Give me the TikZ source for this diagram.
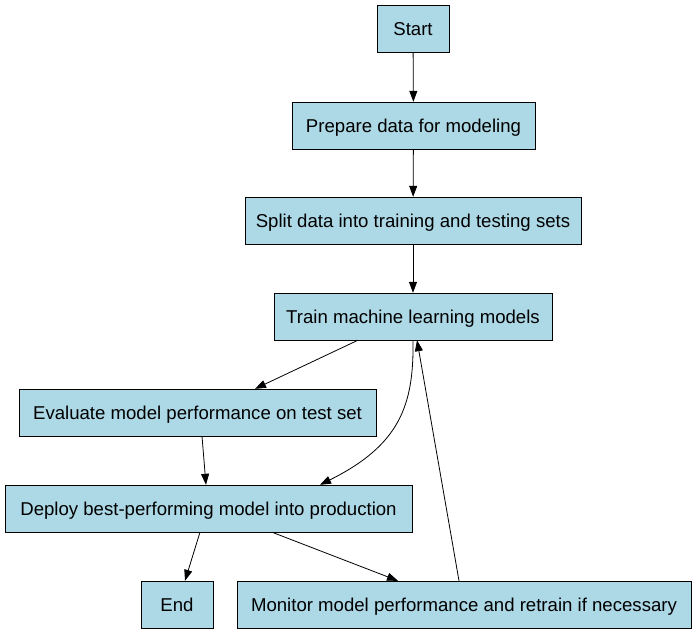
\documentclass[tikz,border=0pt]{standalone}
\usepackage{fontspec}
\setmainfont{Liberation Sans}
\usetikzlibrary{arrows.meta}
\definecolor{boxblue}{RGB}{173,216,230}
\tikzset{
  stepbox/.style={draw, fill=boxblue, rectangle, minimum height=47pt, inner sep=0pt,
    text height=13pt, text depth=0pt,
    font=\fontsize{18.6}{22}\selectfont},
  flow/.style={-{Triangle[length=11pt,width=8pt]}, line width=0.8pt}
}
\begin{document}
\begin{tikzpicture}[x=1pt,y=-1pt]
\useasboundingbox (0,0) rectangle (697,635);
\node[stepbox, minimum width=72pt] (start) at (413,29){Start};
\node[stepbox, minimum width=243pt] (prep) at (413.5,125.5){Prepare data for modeling};
\node[stepbox, minimum width=336pt] (split) at (413,220.5){Split data into training and testing sets};
\node[stepbox, minimum width=278pt] (train) at (413,316.5){Train machine learning models};
\node[stepbox, minimum width=357pt] (eval) at (197.5,412.5){Evaluate model performance on test set};
\node[stepbox, minimum width=407pt] (deploy) at (208.5,508.5){Deploy best-performing model into production};
\node[stepbox, minimum width=72pt] (end) at (177,604.5){End};
\node[stepbox, minimum width=454pt] (monitor) at (464,604.5){Monitor model performance and retrain if necessary};
\draw[flow](start) -- (prep);
\draw[flow](prep) -- (split);
\draw[flow](split) -- (train);
\draw[flow]([xshift=-55pt]train.south) -- ([xshift=57.5pt]eval.north);
\draw[flow](train.south) .. controls (414,405) and (400,445) .. ([xshift=111.5pt]deploy.north);
\draw[flow]([xshift=4.5pt]eval.south) -- ([xshift=-2.5pt]deploy.north);
\draw[flow]([xshift=-8.5pt]deploy.south) -- ([xshift=8pt]end.north);
\draw[flow]([xshift=63.5pt]deploy.south) -- ([xshift=-66pt]monitor.north);
\draw[flow]([xshift=-5pt]monitor.north) -- ([xshift=4pt]train.south);
\end{tikzpicture}
\end{document}
